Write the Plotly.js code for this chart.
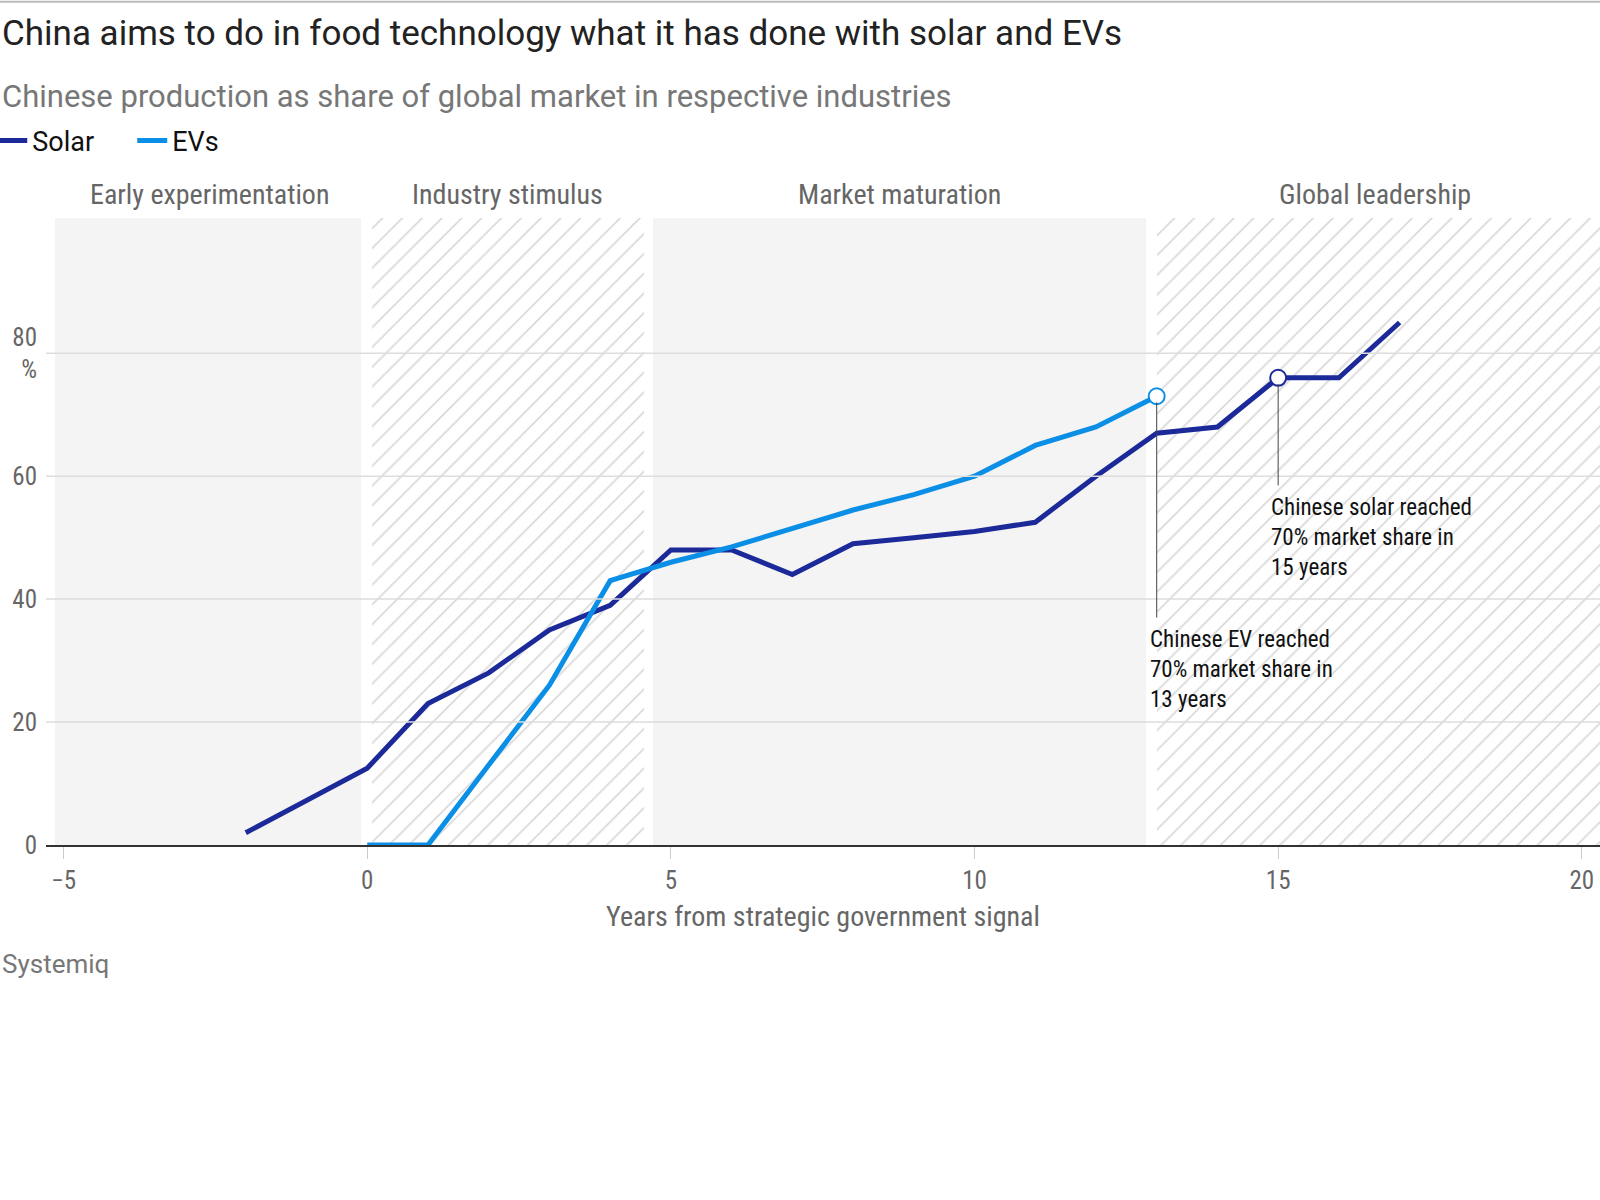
<!DOCTYPE html>
<html>
<head>
<meta charset="utf-8">
<script src="https://cdn.plot.ly/plotly-3.0.1.min.js"></script>
<style>
  body { margin: 0; background: #fff; }
  #chart { width: 1600px; height: 1200px; }
</style>
</head>
<body>
<div id="chart"></div>
<script>
// Series values
const solarYears = [-2, 0, 1, 2, 3, 4, 5, 6, 7, 8, 9, 10, 11, 12, 13, 14, 15, 16, 17];
const solarShare = [2, 12.5, 23, 28, 35, 39, 48, 48, 44, 49, 50, 51, 52.5, 60, 67, 68, 76, 76, 85];
const evYears = [0, 1, 2, 3, 4, 5, 6, 7, 8, 9, 10, 11, 12, 13];
const evShare = [0, 0, 13, 26, 43, 46, 48.5, 51.5, 54.5, 57, 60, 65, 68, 73];

// Phases: start / end in years, hatched or plain grey
const phaseNames = ['Early experimentation', 'Industry stimulus', 'Market maturation', 'Global leadership'];
const phaseStart = [-5.14, 0.07, 4.71, 13.0];
const phaseEnd = [-0.1, 4.55, 12.83, 20.4];
const phaseHatched = [false, true, false, true];
const phaseTop = 102;

const yTicks = [0, 20, 40, 60, 80];
const yTickText = ['0', '20', '40', '60', '80<br>%'];
const xTicks = [-5, 0, 5, 10, 15, 20];

const solarColor = '#1c2a99';
const evColor = '#0b8fe6';
const font = 'Liberation Sans Narrow, Roboto Condensed, Roboto, sans-serif';
const px = -0.0296; // paper x of the page's left edge

function phaseTrace(hatched) {
    const idx = phaseStart.map((_, i) => i).filter(i => phaseHatched[i] === hatched);
    const marker = { color: hatched ? '#ffffff' : '#f4f4f4', line: { width: 0 } };
    if (hatched) {
        marker.pattern = { shape: '/', fillmode: 'replace', fgcolor: '#d9d9d9',
                           bgcolor: '#ffffff', size: 14, solidity: 0.12 };
    }
    return {
        type: 'bar',
        x: idx.map(i => (phaseStart[i] + phaseEnd[i]) / 2),
        y: idx.map(() => phaseTop),
        width: idx.map(i => phaseEnd[i] - phaseStart[i]),
        marker: marker,
        hoverinfo: 'skip',
        showlegend: false
    };
}

const solar = {
    type: 'scatter', mode: 'lines', name: 'Solar',
    x: solarYears, y: solarShare,
    line: { color: solarColor, width: 5 }
};
const ev = {
    type: 'scatter', mode: 'lines', name: 'EVs',
    x: evYears, y: evShare,
    line: { color: evColor, width: 5 }
};
const markers = {
    type: 'scatter', mode: 'markers', showlegend: false,
    x: [evYears[evYears.length - 1], 15],
    y: [evShare[evShare.length - 1], solarShare[solarYears.indexOf(15)]],
    marker: { size: 16, color: '#fff', line: { color: [evColor, solarColor], width: 2 } }
};

const shapes = yTicks.slice(1).map(v => ({
    type: 'line', xref: 'paper', x0: 0, x1: 1, y0: v, y1: v,
    line: { color: '#dddddd', width: 1.5 }, layer: 'above'
}));
shapes.push(
    { type: 'line', x0: 13, x1: 13, y0: 72, y1: 37, line: { color: '#444', width: 1 } },
    { type: 'line', x0: 15, x1: 15, y0: 75, y1: 58.5, line: { color: '#444', width: 1 } },
    { type: 'line', xref: 'paper', yref: 'paper', x0: px, x1: 1, y0: 1.345, y1: 1.345,
      line: { color: '#bbbbbb', width: 2 } }
);

const annotations = phaseNames.map((n, i) => ({
    text: n, x: (Math.max(phaseStart[i], -5.1) + Math.min(phaseEnd[i], 20.2)) / 2,
    y: 1.038, yref: 'paper', yanchor: 'middle', showarrow: false,
    font: { family: font, size: 28, color: '#666' }
}));
annotations.push(
    { text: 'Chinese EV reached<br>70% market share in<br>13 years', x: 12.85, y: 36,
      xanchor: 'left', yanchor: 'top', align: 'left', showarrow: false,
      font: { family: font, size: 23, color: '#111' } },
    { text: 'Chinese solar reached<br>70% market share in<br>15 years', x: 14.85, y: 57.5,
      xanchor: 'left', yanchor: 'top', align: 'left', showarrow: false,
      font: { family: font, size: 23, color: '#111' } },
    { text: 'China aims to do in food technology what it has done with solar and EVs',
      xref: 'paper', yref: 'paper', x: px, y: 1.295, xanchor: 'left', yanchor: 'middle',
      showarrow: false, font: { family: 'Roboto, sans-serif', size: 35, color: '#222' } },
    { text: 'Chinese production as share of global market in respective industries',
      xref: 'paper', yref: 'paper', x: px, y: 1.193, xanchor: 'left', yanchor: 'middle',
      showarrow: false, font: { family: 'Roboto, sans-serif', size: 31, color: '#777' } },
    { text: 'Systemiq', xref: 'paper', yref: 'paper', x: px, y: -0.19,
      xanchor: 'left', yanchor: 'middle', showarrow: false,
      font: { family: 'Roboto, sans-serif', size: 26, color: '#777' } }
);

const layout = {
    width: 1600, height: 1200,
    margin: { l: 46, r: 0, t: 218, b: 355, autoexpand: false },
    paper_bgcolor: '#fff', plot_bgcolor: '#fff',
    barmode: 'overlay', bargap: 0,
    showlegend: true,
    legend: {
        orientation: 'h', x: px - 0.005, y: 1.123, xanchor: 'left', yanchor: 'middle',
        font: { family: 'Roboto, sans-serif', size: 27, color: '#111' },
        traceorder: 'normal', itemwidth: 30, entrywidth: 135
    },
    xaxis: {
        range: [-5.29, 20.3], tickvals: xTicks, showgrid: false, zeroline: false,
        showline: true, linecolor: '#333', linewidth: 2,
        ticks: 'outside', ticklen: 12, tickcolor: '#cccccc',
        tickfont: { family: font, size: 25, color: '#666' },
        title: { text: 'Years from strategic government signal', standoff: 12,
                 font: { family: font, size: 28, color: '#666' } }
    },
    yaxis: {
        range: [0, phaseTop], tickvals: yTicks, ticktext: yTickText,
        showgrid: false, zeroline: false, ticks: '', ticklabelstandoff: 8,
        tickfont: { family: font, size: 25, color: '#666' }
    },
    shapes: shapes,
    annotations: annotations
};
layout.legend.entrywidth = 95;

Plotly.newPlot('chart', [phaseTrace(false), phaseTrace(true), solar, ev, markers], layout, { displayModeBar: false });
</script>
</body>
</html>
